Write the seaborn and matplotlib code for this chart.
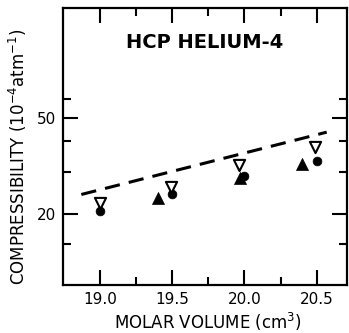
import matplotlib
matplotlib.use("Agg")
import matplotlib.pyplot as plt
import seaborn as sns
from matplotlib.ticker import FixedLocator, NullFormatter, FixedFormatter

# ---- data ----
circle_x = [19.0, 19.5, 20.0, 20.5]
circle_y = [20.6, 24.2, 28.8, 33.2]
tri_down_x = [19.0, 19.49, 19.96, 20.49]
tri_down_y = [22.2, 26.0, 31.9, 38.0]
tri_up_x = [19.40, 19.97, 20.40]
tri_up_y = [23.2, 28.1, 32.1]
line_x = [18.87, 20.57]
line_y = [24.1, 43.7]

x_major = [19.0, 19.5, 20.0, 20.5]
x_minor = [19.25, 19.75, 20.25]
x_labels = ["19.0", "19.5", "20.0", "20.5"]
y_major = [20, 50]
y_minor = [15, 30, 40, 60]
y_labels = ["20", "50"]

sns.set_style("white")
plt.rcParams["font.family"] = ["DejaVu Sans"]

fig = plt.figure(figsize=(3.49, 3.33), dpi=100)
ax = fig.add_axes([0.1805, 0.144, 0.8135, 0.832])

sns.lineplot(x=line_x, y=line_y, ax=ax, color="black", linewidth=2.2,
             linestyle=(0, (5, 3)))
sns.scatterplot(x=circle_x, y=circle_y, ax=ax, marker="o", s=40,
                color="black", edgecolor="black", linewidth=0.5, zorder=3)
sns.scatterplot(x=tri_up_x, y=tri_up_y, ax=ax, marker="^", s=75,
                color="black", edgecolor="black", linewidth=0.5, zorder=3)
sns.scatterplot(x=tri_down_x, y=tri_down_y, ax=ax, marker="v", s=65,
                facecolor="white", edgecolor="black", linewidth=1.5, zorder=4)

ax.set_yscale("log")
ax.set_xlim(18.743, 20.71)
ax.set_ylim(10.15, 143)

ax.xaxis.set_major_locator(FixedLocator(x_major))
ax.xaxis.set_major_formatter(FixedFormatter(x_labels))
ax.xaxis.set_minor_locator(FixedLocator(x_minor))
ax.xaxis.set_minor_formatter(NullFormatter())
ax.yaxis.set_major_locator(FixedLocator(y_major))
ax.yaxis.set_major_formatter(FixedFormatter(y_labels))
ax.yaxis.set_minor_locator(FixedLocator(y_minor))
ax.yaxis.set_minor_formatter(NullFormatter())

ax.tick_params(which="both", direction="in", top=True, right=True,
               left=True, bottom=True,
               color="black", width=1.5, labelsize=11, labelcolor="black")
ax.tick_params(which="major", length=11, pad=5)
ax.tick_params(which="minor", length=6)

for s in ax.spines.values():
    s.set_color("black")
    s.set_linewidth(1.6)

ax.set_xlabel("MOLAR VOLUME (cm$^3$)", fontsize=12, color="black")
ax.xaxis.set_label_coords(0.51, -0.095)
ax.set_ylabel("COMPRESSIBILITY (10$^{-4}$atm$^{-1}$)", fontsize=12,
              color="black")
ax.yaxis.set_label_coords(-0.118, 0.462)
ax.text(0.5, 0.875, "HCP HELIUM-4", transform=ax.transAxes, ha="center",
        va="center", fontsize=14, fontweight="bold", color="black")

fig.savefig("out.png", dpi=100, facecolor="white")
